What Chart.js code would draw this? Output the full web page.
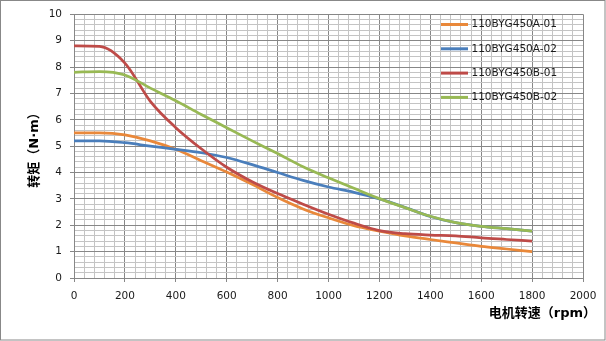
<!DOCTYPE html>
<html>
<head>
<meta charset="utf-8">
<script src="https://cdn.jsdelivr.net/npm/chart.js@4.4.0/dist/chart.umd.min.js"></script>
<style>
  html, body { margin: 0; padding: 0; background: #fff; }
  #wrap { width: 606px; height: 341px; }
</style>
</head>
<body>
<div id="wrap"><canvas id="torque" width="606" height="341"></canvas></div>
<script>
  // speed (rpm) and torque (N·m) per motor model
  const speeds = [0, 100, 200, 300, 400, 500, 600, 700, 800, 900, 1000, 1100, 1200, 1300, 1400, 1500, 1600, 1700, 1800];
  const torqueA01 = [5.5, 5.5, 5.43, 5.2, 4.88, 4.45, 4.02, 3.55, 3.05, 2.62, 2.28, 1.98, 1.78, 1.6, 1.46, 1.33, 1.2, 1.1, 1.0];
  const torqueA02 = [5.2, 5.2, 5.13, 5.0, 4.88, 4.75, 4.57, 4.3, 4.0, 3.7, 3.45, 3.25, 3.0, 2.68, 2.33, 2.1, 1.96, 1.87, 1.78];
  const torqueB01 = [8.8, 8.78, 8.15, 6.7, 5.7, 4.9, 4.2, 3.65, 3.2, 2.8, 2.42, 2.08, 1.8, 1.68, 1.63, 1.6, 1.52, 1.46, 1.4];
  const torqueB02 = [7.8, 7.83, 7.7, 7.2, 6.72, 6.2, 5.7, 5.2, 4.72, 4.22, 3.8, 3.4, 3.01, 2.67, 2.34, 2.1, 1.96, 1.87, 1.78];
  const models = ['110BYG450A-01', '110BYG450A-02', '110BYG450B-01', '110BYG450B-02'];
  const colors = ['#E9883A', '#4A7EBB', '#BE4B48', '#98B954'];
  const xTicks = [0, 200, 400, 600, 800, 1000, 1200, 1400, 1600, 1800, 2000];
  const yTicks = [0, 1, 2, 3, 4, 5, 6, 7, 8, 9, 10];

  const xTitle = '电机转速（rpm）';
  const yTitle = '转矩（N·m）';

  const MAJOR = '#878787';
  const MINOR = '#c4c4c4';
  const tickFont = { family: 'DejaVu Sans', size: 10.5 };

  function points(vals){ return speeds.map((s, i) => ({ x: s, y: vals[i] })); }
  const series = [torqueA01, torqueA02, torqueB01, torqueB02];
  // green goes on top, then red, blue, orange
  const stack = [3, 2, 1, 0];

  const datasets = series.map((vals, i) => ({
    label: models[i],
    data: points(vals),
    borderColor: colors[i],
    backgroundColor: colors[i],
    borderWidth: 2.75,
    pointRadius: 0,
    cubicInterpolationMode: 'monotone',
    fill: false,
    order: stack[i]
  }));

  const isX = v => xTicks.indexOf(Math.round(v)) >= 0 && Math.abs(v - Math.round(v)) < 1e-6;
  const isY = v => Math.abs(v - Math.round(v)) < 1e-6 && yTicks.indexOf(Math.round(v)) >= 0;

  const decor = {
    id: 'decor',
    beforeDraw(chart){
      const c = chart.ctx;
      c.save();
      c.fillStyle = '#fff';
      c.fillRect(0, 0, chart.width, chart.height);
      c.restore();
    },
    afterDraw(chart){
      const c = chart.ctx;
      c.save();
      // legend inside the plot, top right
      c.font = '10.5px "DejaVu Sans"';
      c.textBaseline = 'middle';
      c.textAlign = 'left';
      chart.data.datasets.forEach((ds, i) => {
        const y = 24.5 + i * 24.3;
        c.strokeStyle = ds.borderColor;
        c.lineWidth = 3;
        c.beginPath();
        c.moveTo(441, y);
        c.lineTo(468, y);
        c.stroke();
        c.fillStyle = '#1a1a1a';
        c.fillText(ds.label, 471.5, y);
      });
      // axis titles
      c.fillStyle = '#000';
      c.font = 'bold 13px "DejaVu Sans", "Noto Sans CJK SC"';
      c.textAlign = 'right';
      c.fillText(xTitle, 596, 314);
      c.translate(35, 147);
      c.rotate(-Math.PI / 2);
      c.textAlign = 'center';
      c.fillText(yTitle, 0, 0);
      c.restore();
      // outer frame
      c.save();
      c.strokeStyle = '#888';
      c.lineWidth = 1;
      c.strokeRect(0.5, 0.5, chart.width - 1.5, chart.height - 1.5);
      c.restore();
    }
  };

  new Chart(document.getElementById('torque'), {
    type: 'line',
    data: { datasets },
    plugins: [decor],
    options: {
      responsive: false,
      animation: false,
      layout: { padding: { left: 0, top: 14, right: 23, bottom: 0 } },
      plugins: { legend: { display: false }, tooltip: { enabled: false } },
      scales: {
        x: {
          type: 'linear',
          min: 0,
          max: 2000,
          afterFit(scale){ scale.height = 63; },
          ticks: {
            stepSize: 40,
            autoSkip: false,
            maxRotation: 0,
            padding: 8,
            color: '#1a1a1a',
            font: tickFont,
            callback: v => isX(v) ? String(Math.round(v)) : ''
          },
          grid: {
            color: ctx => ctx.tick && isX(ctx.tick.value) ? MAJOR : MINOR,
            tickColor: ctx => ctx.tick && isX(ctx.tick.value) ? MAJOR : 'rgba(0,0,0,0)',
            tickLength: 4,
            lineWidth: 1
          },
          border: { color: MAJOR }
        },
        y: {
          min: 0,
          max: 10,
          afterFit(scale){ scale.width = 74; },
          ticks: {
            stepSize: 0.2,
            autoSkip: false,
            padding: 8,
            color: '#1a1a1a',
            font: tickFont,
            callback: v => isY(v) ? String(Math.round(v)) : ''
          },
          grid: {
            color: ctx => ctx.tick && isY(ctx.tick.value) ? MAJOR : MINOR,
            tickColor: ctx => ctx.tick && isY(ctx.tick.value) ? MAJOR : 'rgba(0,0,0,0)',
            tickLength: 4,
            lineWidth: 1
          },
          border: { color: MAJOR }
        }
      }
    }
  });
</script>
</body>
</html>
